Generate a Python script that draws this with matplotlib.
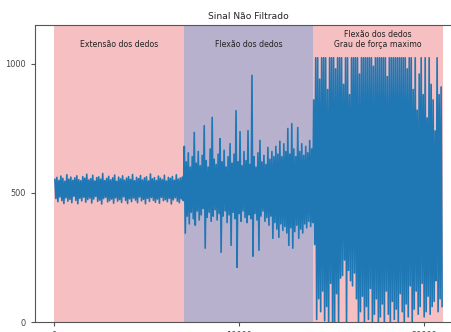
import numpy as np
import matplotlib
matplotlib.use("Agg")
import matplotlib.pyplot as plt

title = "Sinal Não Filtrado"
region_labels = ["Extensão dos dedos", "Flexão dos dedos", "Flexão dos dedos\nGrau de força maximo"]
region_bounds = [0, 7000, 14000, 21000]
region_colors = ["#f6bfc1", "#b8b1ce", "#f6bfc1"]

# signal peaks: one upper and one lower peak per short bin
r1_upper = [552, 560, 548, 565, 556, 545, 570, 553, 561, 549, 558, 566, 551, 547, 563, 557, 572, 550, 555, 568,
            546, 559, 562, 553, 575, 548, 556, 564, 550, 558, 569, 545, 561, 554, 566, 549, 557, 563, 552, 571,
            547, 560, 555, 567, 550, 558, 562, 546, 573, 554, 559, 548, 565, 557, 551, 568, 546, 560, 556, 563,
            549, 570, 553, 558, 561]
r1_lower = [478, 466, 484, 470, 459, 481, 468, 475, 462, 487, 471, 458, 479, 469, 483, 464, 474, 480, 461, 476,
            486, 467, 472, 457, 478, 483, 465, 470, 476, 460, 481, 468, 474, 463, 485, 471, 459, 477, 466, 480,
            472, 462, 484, 469, 475, 458, 479, 467, 482, 471, 464, 476, 460, 483, 470, 474, 466, 479, 457, 473,
            481, 468, 462, 477, 470]
r2_upper = [680, 620, 655, 600, 640, 734, 615, 660, 605, 645, 760, 625, 600, 670, 792, 630, 610, 650, 710, 620,
            665, 600, 640, 690, 615, 650, 818, 620, 737, 605, 660, 625, 741, 610, 955, 640, 600, 655, 703, 620,
            645, 610, 676, 630, 660, 640, 680, 650, 700, 640, 690, 660, 749, 650, 768, 670, 640, 753, 660, 690,
            645, 680, 655, 703, 670]
r2_lower = [344, 410, 380, 425, 400, 375, 430, 395, 415, 440, 286, 405, 425, 390, 410, 435, 395, 420, 270, 410,
            430, 385, 415, 297, 425, 400, 212, 420, 390, 430, 405, 385, 415, 400, 255, 420, 395, 278, 410, 430,
            390, 405, 375, 410, 324, 385, 360, 328, 380, 355, 370, 345, 297, 365, 286, 350, 375, 324, 360, 345,
            380, 365, 390, 370, 385]
r3_upper = [860, 1023, 1023, 940, 1023, 1023, 1023, 900, 1023, 1023, 1023, 980, 1023, 1023, 1023, 920, 1023, 1023,
            880, 1023, 1023, 1023, 1023, 960, 1023, 1023, 1023, 1023, 1023, 1023, 990, 1023, 1023, 1023, 1023, 1023,
            1023, 950, 1023, 1023, 1023, 1023, 1023, 1023, 1023, 1023, 1023, 980, 1023, 1023, 900, 1023, 820, 960,
            1023, 880, 1023, 790, 1023, 920, 860, 740, 1023, 880, 910]
r3_lower = [300, 10, 90, 40, 120, 5, 60, 0, 150, 0, 0, 110, 0, 170, 180, 240, 0, 200, 160, 140, 190, 90, 0,
            40, 100, 0, 60, 10, 130, 0, 30, 90, 0, 20, 70, 0, 120, 30, 0, 80, 10, 50, 0, 110, 40, 0, 70, 20,
            140, 0, 50, 120, 30, 60, 150, 20, 40, 100, 30, 60, 80, 160, 40, 90, 60]

uppers = [r1_upper, r2_upper, r3_upper]
lowers = [r1_lower, r2_lower, r3_lower]

xs, ys = [], []
for k in range(3):
    a, b = region_bounds[k], region_bounds[k + 1]
    n = len(uppers[k])
    edges = np.linspace(a, b, n + 1)
    w = edges[1] - edges[0]
    for i in range(n):
        xs += [edges[i] + 0.25 * w, edges[i] + 0.75 * w]
        ys += [uppers[k][i], lowers[k][i]]
xs = np.array(xs)
ys = np.array(ys)

fig = plt.figure(figsize=(4.52, 3.32), dpi=100)
ax = fig.add_axes([35 / 452, 10 / 332, 427 / 452, 297 / 332])

for k in range(3):
    ax.axvspan(region_bounds[k], region_bounds[k + 1], color=region_colors[k], lw=0, zorder=0)

ax.plot(xs, ys, color="#1f77b4", lw=1.2, zorder=2)

ax.set_xlim(-1050, 22050)
ax.set_ylim(0, 1150)
ax.set_xticks([0, 10000, 20000])
ax.set_yticks([0, 500, 1000])

for s in ax.spines.values():
    s.set_color("#555555")
    s.set_linewidth(0.8)
ax.tick_params(colors="#555555", labelsize=5.9, length=3, width=0.8)
for lab in ax.get_xticklabels() + ax.get_yticklabels():
    lab.set_color("#444444")

ax.set_title(title, fontsize=6.6, color="#222222", pad=4)

centers = [(region_bounds[k] + region_bounds[k + 1]) / 2 for k in range(3)]
ax.text(centers[0], 1075, region_labels[0], ha="center", va="center", fontsize=5.6, color="#222222")
ax.text(centers[1], 1075, region_labels[1], ha="center", va="center", fontsize=5.6, color="#222222")
ax.text(centers[2], 1093, region_labels[2], ha="center", va="center", fontsize=5.6, color="#222222",
        linespacing=1.15)

fig.savefig("out.png", dpi=100)
